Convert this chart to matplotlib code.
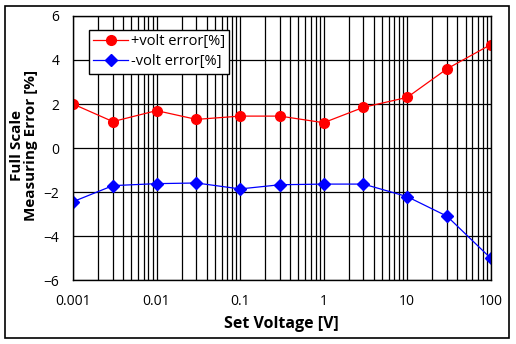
import matplotlib.pyplot as plt
from matplotlib.patches import Rectangle
from matplotlib.ticker import LogLocator, FixedLocator, FixedFormatter

plt.rcParams['font.family'] = ['Open Sans', 'DejaVu Sans']

set_voltage = [0.001, 0.003, 0.01, 0.03, 0.1, 0.3, 1, 3, 10, 30, 100]
plus_err = [2.0, 1.2, 1.7, 1.3, 1.45, 1.45, 1.15, 1.85, 2.3, 3.6, 4.7]
minus_err = [-2.44, -1.71, -1.62, -1.59, -1.86, -1.67, -1.64, -1.64, -2.21, -3.1, -5.01]
xtick_vals = [0.001, 0.01, 0.1, 1, 10, 100]
xtick_labels = ['0.001', '0.01', '0.1', '1', '10', '100']

fig = plt.figure(figsize=(5.16, 3.44), dpi=100)
fig.patches.append(Rectangle((5 / 516, 6 / 344), 504 / 516, 332 / 344,
                             transform=fig.transFigure, fill=False,
                             edgecolor='black', linewidth=1.2))
ax = fig.add_axes([0.1415, 0.186, 0.8095, 0.7675])

ax.plot(set_voltage, plus_err, color='red', marker='o', markersize=7,
        linewidth=0.9, label='+volt error[%]')
ax.plot(set_voltage, minus_err, color='blue', marker='D', markersize=6,
        linewidth=0.9, label='-volt error[%]')

ax.set_xscale('log')
ax.set_xlim(0.001, 100)
ax.set_ylim(-6, 6)
ax.set_yticks(range(-6, 7, 2))
ax.xaxis.set_major_locator(FixedLocator(xtick_vals))
ax.xaxis.set_major_formatter(FixedFormatter(xtick_labels))
ax.xaxis.set_minor_locator(LogLocator(base=10, subs=range(2, 10)))
ax.grid(True, which='both', axis='x', color='black', linewidth=0.9)
ax.grid(True, which='major', axis='y', color='black', linewidth=0.9)
ax.set_axisbelow(True)
ax.tick_params(which='both', length=0, labelsize=10)
ax.tick_params(axis='x', pad=10)
ax.tick_params(axis='y', pad=10)
for s in ax.spines.values():
    s.set_linewidth(1.0)

ax.set_xlabel('Set Voltage [V]', fontsize=11.5, fontweight='bold', labelpad=5)
# two-line y label placed by hand so it stays inside the frame
fig.text(24 / 516, 1 - 145 / 344, 'Full Scale\nMeasuring Error [%]',
         rotation=90, ha='center', va='center', fontsize=11,
         fontweight='bold', linespacing=1.05, multialignment='center')

leg = ax.legend(loc='upper left', bbox_to_anchor=(0.02, 0.975), fontsize=10.5,
                frameon=True, fancybox=False, edgecolor='black',
                framealpha=1, borderpad=0.3, handlelength=2.4,
                handletextpad=0.2, labelspacing=0.35)
leg.get_frame().set_linewidth(1.0)

fig.savefig('out.png', dpi=100)
